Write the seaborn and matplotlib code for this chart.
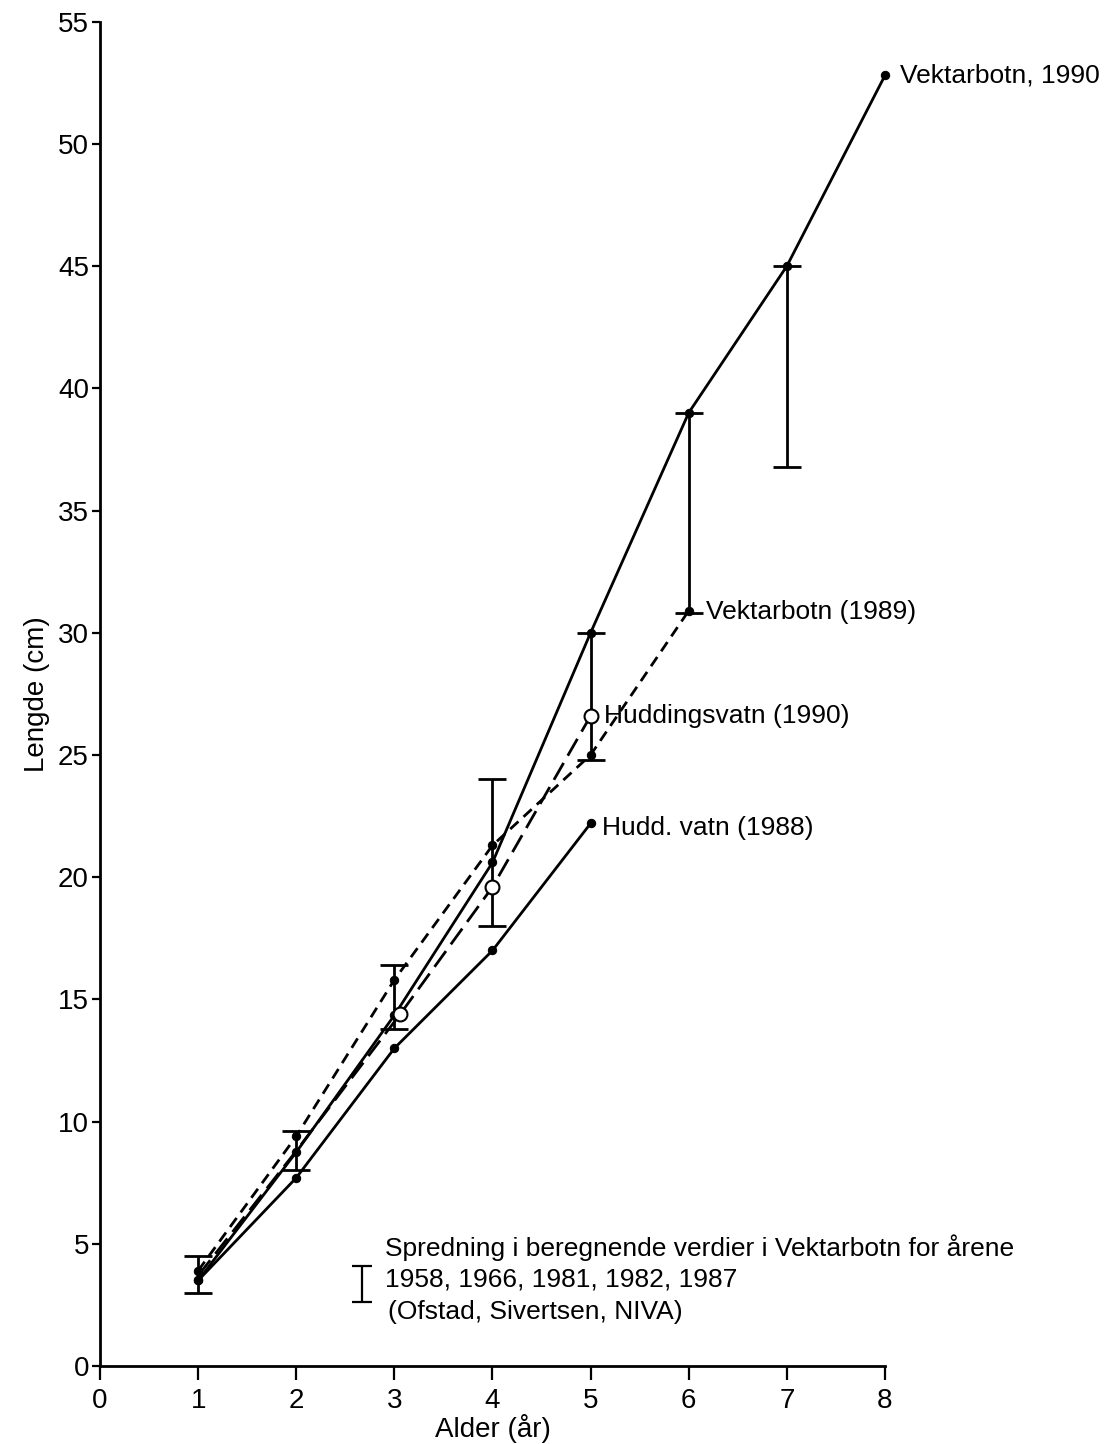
import matplotlib
matplotlib.use("Agg")
import matplotlib.pyplot as plt
import seaborn as sns

# Vekst (lengde ved alder) i Vektarbotn og Huddingsvatn
alder_v90 = [1, 2, 3, 4, 5, 6, 7, 8]
lengde_v90 = [3.5, 8.75, 14.35, 20.6, 30.0, 39.0, 45.0, 52.8]

alder_v89 = [1, 2, 3, 4, 5, 6]
lengde_v89 = [3.9, 9.4, 15.8, 21.3, 25.0, 30.9]

alder_h90 = [1, 2, 3.06, 4, 5]
lengde_h90 = [3.7, 8.8, 14.4, 19.6, 26.6]

alder_h88 = [1, 2, 3, 4, 5]
lengde_h88 = [3.5, 7.7, 13.0, 17.0, 22.2]

# spredning i beregnende verdier (1958-1987)
alder_spr = [1, 2, 3, 4, 5, 6, 7]
spr_lav = [3.0, 8.0, 13.8, 18.0, 24.8, 30.8, 36.8]
spr_hoy = [4.5, 9.6, 16.4, 24.0, 30.0, 39.0, 45.0]

sns.set_theme(style="ticks")
plt.rcParams['font.family'] = ['Liberation Sans', 'DejaVu Sans']
plt.rcParams['text.color'] = 'black'
plt.rcParams['axes.labelcolor'] = 'black'
plt.rcParams['xtick.color'] = 'black'
plt.rcParams['ytick.color'] = 'black'

fig = plt.figure(figsize=(11.15, 14.44), dpi=100)
ax = fig.add_axes([0.0897, 0.054, 0.704, 0.931])

lw = 2.0
sns.lineplot(x=alder_v90, y=lengde_v90, ax=ax, color="black", lw=lw,
             marker="o", markersize=6, markeredgecolor="black")
sns.lineplot(x=alder_v89, y=lengde_v89, ax=ax, color="black", lw=lw,
             marker="o", markersize=6, markeredgecolor="black",
             linestyle=(0, (4, 2.5)))
sns.lineplot(x=alder_h88, y=lengde_h88, ax=ax, color="black", lw=lw,
             marker="o", markersize=6, markeredgecolor="black")
sns.lineplot(x=alder_h90, y=lengde_h90, ax=ax, color="black", lw=lw,
             linestyle=(0, (7, 3)))
ax.plot(alder_h90[2:], lengde_h90[2:], "o", ms=10, mfc="white",
        mec="black", mew=1.5, zorder=5)

# spredning som feilstolper
mid = [(a + b) / 2 for a, b in zip(spr_lav, spr_hoy)]
err = [(b - a) / 2 for a, b in zip(spr_lav, spr_hoy)]
ax.errorbar(alder_spr, mid, yerr=err, fmt="none", ecolor="black",
            elinewidth=2.0, capsize=10, capthick=2.0)

# forklaring
ax.errorbar([2.67], [3.35], yerr=[0.75], fmt="none", ecolor="black",
            elinewidth=1.6, capsize=7, capthick=1.6)
ax.text(2.9, 4.85, "Spredning i beregnende verdier i Vektarbotn for årene",
        fontsize=19, va="center")
ax.text(2.9, 3.55, "1958, 1966, 1981, 1982, 1987", fontsize=19, va="center")
ax.text(2.93, 2.2, "(Ofstad, Sivertsen, NIVA)", fontsize=19, va="center")

# seriemerker
ax.text(8.15, 52.8, "Vektarbotn, 1990", fontsize=19, va="center")
ax.text(6.18, 30.85, "Vektarbotn (1989)", fontsize=19, va="center")
ax.text(5.14, 26.6, "Huddingsvatn (1990)", fontsize=19, va="center")
ax.text(5.12, 22.0, "Hudd. vatn (1988)", fontsize=19, va="center")

ax.set_xlim(0, 8)
ax.set_ylim(0, 55)
ax.set_xticks(range(0, 9))
ax.set_yticks(range(0, 56, 5))
ax.tick_params(labelsize=20, width=1.6)
ax.tick_params(axis="x", length=10, pad=6)
ax.tick_params(axis="y", length=6, pad=2)
ax.set_xlabel("Alder (år)", fontsize=20, labelpad=0)
ax.set_ylabel("Lengde (cm)", fontsize=20, labelpad=6)
for s in ["left", "bottom"]:
    ax.spines[s].set_linewidth(2.0)
    ax.spines[s].set_color("black")
sns.despine(ax=ax)
for line in ax.lines:
    line.set_clip_on(False)

fig.savefig("out.png", dpi=100)
